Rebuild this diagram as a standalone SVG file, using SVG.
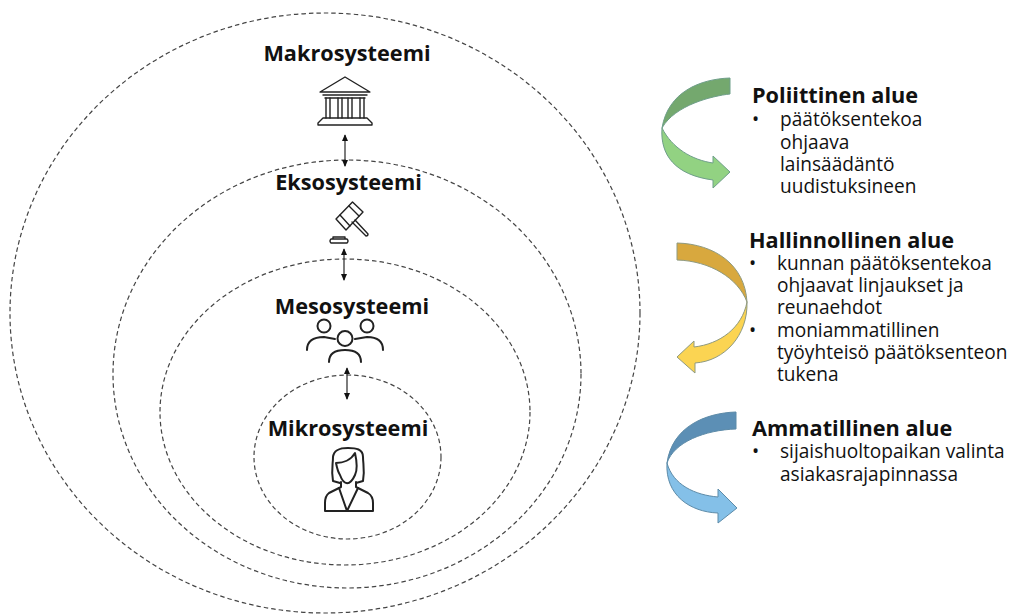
<svg xmlns="http://www.w3.org/2000/svg" width="1017" height="614" viewBox="0 0 1017 614">
<style>
text{font-family:"Open Sans","Noto Sans","DejaVu Sans",sans-serif;fill:#111}
.h{font-size:21.7px;font-weight:700}
.t{font-size:19.1px}
.ring{fill:none;stroke:#444;stroke-width:1.2;stroke-dasharray:4.5 3}
.ic{fill:none;stroke:#222;stroke-width:2;stroke-linecap:round;stroke-linejoin:round}
.thin{stroke-width:1.4}
.link{stroke:#111;stroke-width:1.1;fill:none;marker-start:url(#a);marker-end:url(#a)}
</style>
<defs>
<marker id="a" viewBox="0 0 8 8" refX="7" refY="4" markerWidth="7" markerHeight="7" orient="auto-start-reverse" markerUnits="userSpaceOnUse"><path d="M0 0.5L8 4L0 7.5z" fill="#111"/></marker>
</defs>
<rect width="1017" height="614" fill="#fff"/>
<g id="ring-makro"><ellipse class="ring" cx="325" cy="313" rx="315" ry="300"/></g>
<g id="ring-ekso"><ellipse class="ring" cx="347" cy="374" rx="234" ry="214"/></g>
<g id="ring-meso"><ellipse class="ring" cx="345" cy="412" rx="185" ry="153"/></g>
<g id="ring-mikro"><ellipse class="ring" cx="347.500" cy="457" rx="93.500" ry="82"/></g>
<g id="connectors">
<path class="link" d="M345 135V166"/>
<path class="link" d="M344 249V280"/>
<path class="link" d="M347 368V399"/>
</g>
<g id="makrosysteemi">
<text class="h" x="347" y="61" text-anchor="middle">Makrosysteemi</text>
<g class="ic thin">
<path d="M320 92L345 77L370 92Z"/>
<path d="M323 95H367M325 98H365"/>
<path d="M326 98V118M330 98V118M338 98V118M342 98V118M348 98V118M352 98V118M360 98V118M364 98V118"/>
<path d="M323 118H367L372 123V125H318V123Z"/>
</g>
</g>
<g id="eksosysteemi">
<text class="h" x="348.500" y="190" text-anchor="middle">Eksosysteemi</text>
<g class="ic thin">
<path d="M352.500 202L363 212L346 230L336 219Z"/>
<path d="M349 206L359 216M340 215L350 226"/>
<path d="M352 222L366 236Q368 236 368 234L355 220"/>
<path d="M333 239V237H345V239M331 239H347Q349 241 347 243H331Q329 241 331 239Z"/>
</g>
</g>
<g id="mesosysteemi">
<text class="h" x="352" y="314" text-anchor="middle">Mesosysteemi</text>
<g class="ic">
<circle cx="324" cy="326" r="6.500"/><circle cx="367" cy="326" r="6.500"/><circle cx="345" cy="338.500" r="7.500"/>
<path d="M307 350C307 340 315 337 324 337L335 339M383 350C383 340 376 337 367 337L355 339"/>
<path d="M329 362C329 354 334 350 345 350C356 350 361 354 361 362"/>
</g>
</g>
<g id="mikrosysteemi">
<text class="h" x="348" y="436" text-anchor="middle">Mikrosysteemi</text>
<g class="ic">
<path d="M340 483L333 481C331 470 333 464 333 457C334 449 341 448 348 448C356 448 363 449 363 457C363 464 365 470 363 481L356 483"/>
<path d="M336 463C343 463 351 460 355 453C357 462 358 469 355 475C350 486 344 486 340 475C338 472 337 468 336 463Z"/>
<path d="M341 482V487L329 493Q325 496 325 503V511H373V503Q373 496 368 493L356 487V482"/>
<path d="M339 488L347 511L358 488"/>
</g>
</g>
<g id="poliittinen">
<path d="M730 78C700 79 668 92 662 128C675 105 712 96 730 94Z" fill="#74a86e" stroke="#6f9f8a" stroke-width="1"/>
<path d="M662 128C660 155 675 175 713 180V188L730 172L713 156V163C692 160 672 148 662 128Z" fill="#92d282" stroke="#6f9f8a" stroke-width="1"/>
<text class="h" x="752" y="103">Poliittinen alue</text>
<text class="t"><tspan x="752" y="126">•</tspan><tspan x="780" y="126">päätöksentekoa</tspan><tspan x="780" y="149">ohjaava</tspan><tspan x="780" y="171">lainsäädäntö</tspan><tspan x="780" y="193">uudistuksineen</tspan></text>
</g>
<g id="hallinnollinen">
<path d="M677 243C715 244 745 265 747 302C738 278 710 261 677 260Z" fill="#d8a83e" stroke="#8f9a80" stroke-width="1"/>
<path d="M747 302C748 335 725 361 695 363V373L677 357L694 341V347C720 344 742 328 747 302Z" fill="#fbd452" stroke="#8f9a80" stroke-width="1"/>
<text class="h" x="749" y="248">Hallinnollinen alue</text>
<text class="t"><tspan x="749" y="270">•</tspan><tspan x="777" y="270">kunnan päätöksentekoa</tspan><tspan x="777" y="292">ohjaavat linjaukset ja</tspan><tspan x="777" y="314">reunaehdot</tspan><tspan x="749" y="337">•</tspan><tspan x="777" y="337">moniammatillinen</tspan><tspan x="777" y="359">työyhteisö päätöksenteon</tspan><tspan x="777" y="381">tukena</tspan></text>
</g>
<g id="ammatillinen">
<path d="M736 412C705 413 672 427 667 463C674 442 705 430 736 429Z" fill="#5c8fb5" stroke="#5d8ba8" stroke-width="1"/>
<path d="M667 463C665 495 690 512 718 513V523L737 508L718 489V497C695 495 673 485 667 463Z" fill="#84c0e8" stroke="#5d8ba8" stroke-width="1"/>
<text class="h" x="752" y="436">Ammatillinen alue</text>
<text class="t"><tspan x="752" y="458">•</tspan><tspan x="780" y="458">sijaishuoltopaikan valinta</tspan><tspan x="780" y="481">asiakasrajapinnassa</tspan></text>
</g>
</svg>
